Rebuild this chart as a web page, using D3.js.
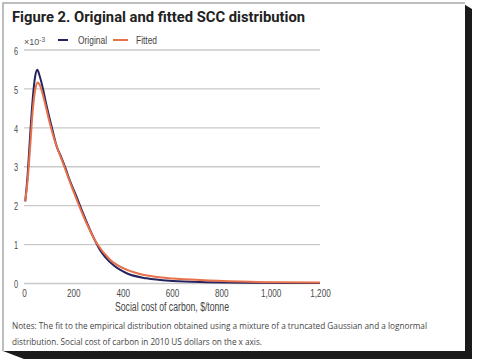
<!DOCTYPE html>
<html><head><meta charset="utf-8">
<script src="https://cdn.jsdelivr.net/npm/d3@7"></script>
<style>body{margin:0;background:#fff}svg{display:block}</style>
</head><body>
<svg id="c" width="480" height="363"></svg>
<script>
const xTicks = [0, 200, 400, 600, 800, 1000, 1200];
const yTicks = [0, 1, 2, 3, 4, 5, 6];
const seriesNames = ["Original", "Fitted"];
const original = [[5,2.1],[15,2.8],[25,3.8],[35,4.7],[45,5.3],[54,5.48],[62,5.35],[78,4.96],[90,4.6],[112,4.02],[133,3.5],[150,3.25],[167,2.97],[186,2.63],[214,2.2],[240,1.78],[268,1.36],[308,0.85],[362,0.46],[416,0.25],[497,0.12],[605,0.05],[741,0.02],[900,0.006],[1200,0.002]];
const fitted = [[5,2.1],[15,2.65],[25,3.5],[35,4.4],[45,4.95],[56,5.15],[65,5.07],[80,4.75],[105,4.1],[126,3.63],[145,3.3],[160,3.05],[180,2.7],[210,2.2],[254,1.53],[295,1.02],[349,0.6],[402,0.38],[470,0.23],[578,0.13],[713,0.08],[876,0.04],[1000,0.02],[1200,0.01]];
const colors = ["#24245e", "#e8704a"];

const svg = d3.select("#c");
// frame with shadow
svg.append("polygon").attr("points","462,3 472,9 472,359 24,359 3,351 462,351").attr("fill","#1b1b1b");
svg.append("rect").attr("x",3).attr("y",3).attr("width",462).attr("height",348).attr("fill","#fff");
svg.append("path").attr("d","M3,351 L3,3 L465,3").attr("fill","none").attr("stroke","#a8a8a8").attr("stroke-width",1.5);

function fit(sel, w){ sel.attr("textLength", w).attr("lengthAdjust","spacingAndGlyphs"); }
function condense(sel, f){ sel.each(function(){ const l=this.getComputedTextLength(); d3.select(this).attr("textLength", l*f).attr("lengthAdjust","spacingAndGlyphs"); }); }

svg.append("text").attr("x",12).attr("y",22).attr("font-family","Roboto, sans-serif").attr("font-weight","bold")
  .attr("font-size",14.5).attr("fill","#222").text("Figure 2. Original and fitted SCC distribution").call(fit,293);

const x = d3.scaleLinear().domain([0,1200]).range([24,320]);
const y = d3.scaleLinear().domain([0,6]).range([283,49.5]);

const yAx = svg.append("g").attr("transform","translate(24,0)")
  .call(d3.axisLeft(y).tickValues(yTicks).tickSize(-296).tickFormat(d3.format("d")).tickPadding(6));
yAx.select(".domain").remove();
yAx.selectAll(".tick line").attr("stroke","#c9c9c9").attr("stroke-width",1.4);
yAx.selectAll(".tick text").attr("font-family","Liberation Sans, sans-serif").attr("font-size",10.5).attr("fill","#4a4a4a").attr("dy","0.45em").call(condense,0.7);

const xAx = svg.append("g").attr("transform","translate(0,283)")
  .call(d3.axisBottom(x).tickValues(xTicks).tickSize(0).tickPadding(6).tickFormat(d3.format(",")));
xAx.select(".domain").remove();
xAx.selectAll(".tick text").attr("font-family","Liberation Sans, sans-serif").attr("font-size",11).attr("fill","#4a4a4a").call(condense,0.74);

svg.append("text").attr("x",172).attr("y",311).attr("text-anchor","middle").attr("font-family","Liberation Sans, sans-serif")
  .attr("font-size",12.5).attr("fill","#444").text("Social cost of carbon, $/tonne").call(fit,114);

// exponent
const ex = svg.append("text").attr("x",24).attr("y",45).attr("font-family","Liberation Sans, sans-serif").attr("font-size",9).attr("fill","#555");
ex.append("tspan").text("×10");
ex.append("tspan").attr("dy",-3).attr("font-size",6.5).text("-3");

const line = d3.line().x(d=>x(d[0])).y(d=>y(d[1])).curve(d3.curveMonotoneX);
[original, fitted].forEach((s,i)=>{
  svg.append("path").attr("d", line(s)).attr("fill","none").attr("stroke",colors[i]).attr("stroke-width",2).attr("stroke-linejoin","round");
});

// legend
const lg = [{x1:58,x2:68,tx:78,w:29},{x1:113,x2:128,tx:136,w:21}];
seriesNames.forEach((n,i)=>{
  svg.append("line").attr("x1",lg[i].x1).attr("x2",lg[i].x2).attr("y1",40).attr("y2",40).attr("stroke",colors[i]).attr("stroke-width",2);
  svg.append("text").attr("x",lg[i].tx).attr("y",44).attr("font-family","Liberation Sans, sans-serif").attr("font-size",11).attr("fill","#444").text(n).call(fit,lg[i].w);
});

svg.append("text").attr("x",12).attr("y",329).attr("font-family","Open Sans, sans-serif").attr("font-size",8.3).attr("fill","#444")
  .text("Notes: The fit to the empirical distribution obtained using a mixture of a truncated Gaussian and a lognormal").call(fit,415);
svg.append("text").attr("x",12).attr("y",345).attr("font-family","Open Sans, sans-serif").attr("font-size",8.3).attr("fill","#444")
  .text("distribution. Social cost of carbon in 2010 US dollars on the x axis.").call(fit,250);
</script>
</body></html>
